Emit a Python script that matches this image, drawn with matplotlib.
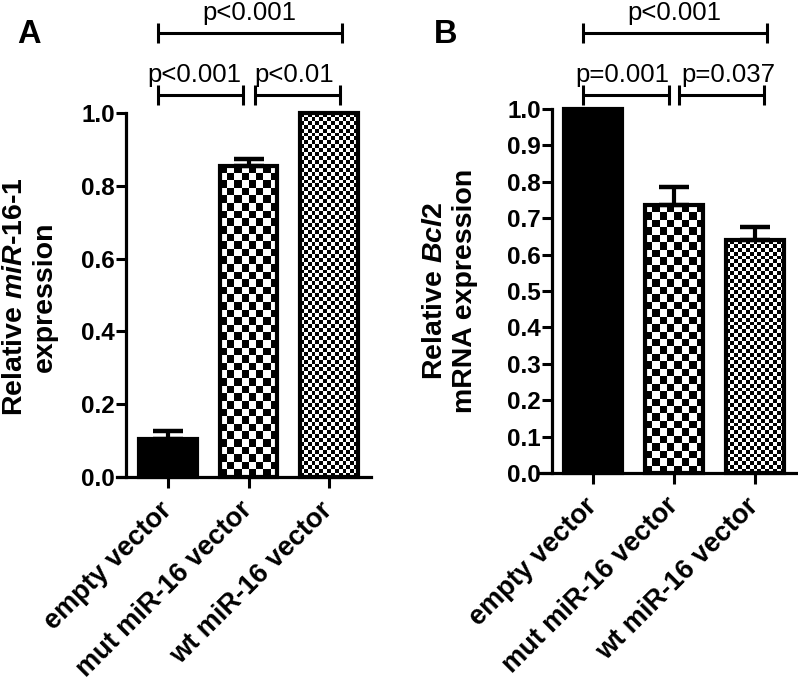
import numpy as np
import matplotlib
matplotlib.use('Agg')
import matplotlib.pyplot as plt

# ---------------- data ----------------
categories = ['empty vector', 'mut miR-16 vector', 'wt miR-16 vector']
mir_values = [0.105, 0.855, 1.0]
mir_err = [0.021, 0.020, 0.0]
bcl2_values = [1.0, 0.735, 0.640]
bcl2_err = [0.0, 0.052, 0.037]
yticks_a = [0.0, 0.2, 0.4, 0.6, 0.8, 1.0]
yticks_b = [0.0, 0.1, 0.2, 0.3, 0.4, 0.5, 0.6, 0.7, 0.8, 0.9, 1.0]
# significance brackets: (x_start, x_end, y_level, text_x, label)
sig_a = [(-0.12, 2.16, 1.220, 1.006, 'p<0.001'),
         (-0.12, 0.93, 1.049, 0.323, 'p<0.001'),
         (1.08, 2.14, 1.049, 1.565, 'p<0.01')]
sig_b = [(-0.12, 2.15, 1.209, 1.00, 'p<0.001'),
         (-0.12, 0.94, 1.038, 0.358, 'p=0.001'),
         (1.06, 2.11, 1.038, 1.667, 'p=0.037')]

plt.rcParams['font.family'] = ['Liberation Sans', 'DejaVu Sans']
plt.rcParams['font.weight'] = 'bold'
plt.rcParams['mathtext.fontset'] = 'custom'
plt.rcParams['mathtext.it'] = 'Liberation Sans:italic:bold'
plt.rcParams['mathtext.rm'] = 'Liberation Sans:bold'
plt.rcParams['mathtext.bf'] = 'Liberation Sans:bold'

W, H = 798, 686
fig = plt.figure(figsize=(W / 100, H / 100), dpi=100)


def checker(ax, patch, cell_px):
    x0, y0 = patch.get_x(), patch.get_y()
    w, h = patch.get_width(), patch.get_height()
    (px0, py0), (px1, py1) = ax.transData.transform([(x0, y0), (x0 + w, y0 + h)])
    nx = max(1, int(round((px1 - px0) / cell_px)))
    ny = max(1, int(round((py1 - py0) / cell_px)))
    arr = np.add.outer(np.arange(ny), np.arange(nx)) % 2
    im = ax.imshow(arr, cmap='gray', vmin=0, vmax=1, extent=[x0, x0 + w, y0, y0 + h],
                   origin='lower', interpolation='nearest', aspect='auto', zorder=2.5)
    im.set_clip_path(patch)


def panel(rect, xlim, yaxis_x, values, errs, yticks, sigs):
    ax = fig.add_axes(rect)
    ax.set_xlim(xlim)
    ax.set_ylim(0, 1.0)
    x = np.arange(len(values))
    bars = ax.bar(x, values, width=0.72, facecolor='none', edgecolor='black',
                  linewidth=3, clip_on=False, zorder=3)
    bars[0].set_facecolor('black')
    checker(ax, bars[1], 7.5)
    checker(ax, bars[2], 3.9)
    for xi, v, e in zip(x, values, errs):
        if e > 0:
            ax.errorbar([xi], [v], yerr=[[0], [e]], fmt='none', ecolor='black',
                        elinewidth=3, capsize=11, capthick=3.2, zorder=2.8, clip_on=False)
    ax.set_xlim(xlim)
    ax.set_ylim(0, 1.0)
    for s in ['top', 'right']:
        ax.spines[s].set_visible(False)
    ax.spines['left'].set_position(('data', yaxis_x))
    ax.spines['left'].set_bounds(0, 1.0)
    ax.spines['left'].set_linewidth(2.3)
    ax.spines['bottom'].set_linewidth(2.3)
    ax.set_yticks(yticks)
    ax.set_yticklabels([f'{t:.1f}' for t in yticks])
    ax.tick_params(axis='y', length=7, width=2.2, pad=1, labelsize=17.5)
    ax.set_xticks(x)
    ax.set_xticklabels(categories, rotation=45, ha='right', va='center',
                       rotation_mode='anchor', fontsize=19.5)
    ax.tick_params(axis='x', length=8, width=2.2, pad=13)
    d = 0.028
    for (xa, xb, yl, tx, txt) in sigs:
        ax.plot([xa, xb], [yl, yl], color='black', lw=2.2, clip_on=False, solid_capstyle='butt')
        ax.plot([xa, xa], [yl - d, yl + d], color='black', lw=2.2, clip_on=False, solid_capstyle='butt')
        ax.plot([xb, xb], [yl - d, yl + d], color='black', lw=2.2, clip_on=False, solid_capstyle='butt')
        ax.text(tx, yl + 0.036, txt, ha='center', va='baseline', fontsize=18.5,
                fontweight='normal', clip_on=False)
    return ax


axA = panel([117 / W, 1 - 477 / H, 254 / W, 364 / H], (-0.634, 2.522), -0.52,
            mir_values, mir_err, yticks_a, sig_a)
axB = panel([540 / W, 1 - 473 / H, 257 / W, 364 / H], (-0.654, 2.519), -0.506,
            bcl2_values, bcl2_err, yticks_b, sig_b)

fig.text(30 / W, 1 - 297 / H, 'Relative $\\mathit{miR}$-$\\mathit{16}$-$\\mathit{1}$\nexpression',
         rotation=90, ha='center', va='center', fontsize=20.5, fontweight='bold',
         linespacing=1.15, multialignment='center')
fig.text(450 / W, 1 - 291 / H, 'Relative $\\mathit{Bcl2}$\nmRNA expression',
         rotation=90, ha='center', va='center', fontsize=20.5, fontweight='bold',
         linespacing=1.15, multialignment='center')

fig.text(17 / W, 1 - 43 / H, 'A', fontsize=23.5, fontweight='bold', va='baseline')
fig.text(434 / W, 1 - 43 / H, 'B', fontsize=23.5, fontweight='bold', va='baseline')

fig.savefig('out.png', dpi=100)
